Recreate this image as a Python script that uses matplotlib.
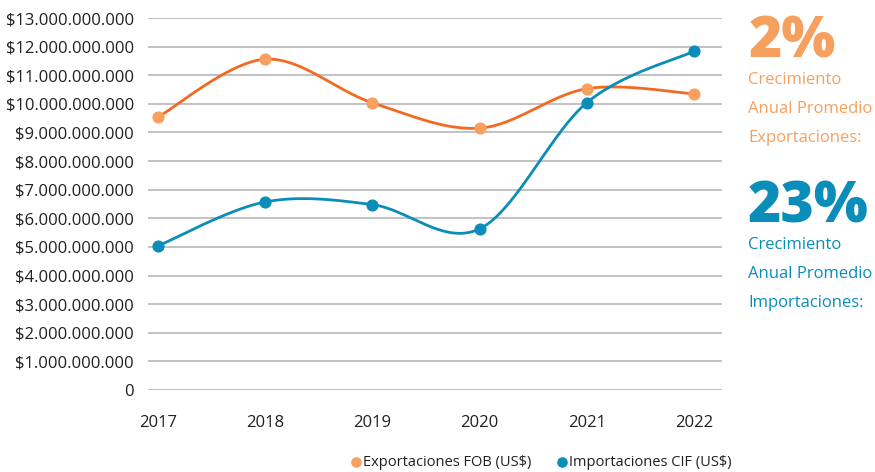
import numpy as np
import matplotlib.pyplot as plt
from matplotlib.ticker import FuncFormatter

years = [2017, 2018, 2019, 2020, 2021, 2022]
exportaciones = [9.53e9, 11.56e9, 10.04e9, 9.15e9, 10.53e9, 10.35e9]
importaciones = [5.03e9, 6.57e9, 6.48e9, 5.63e9, 10.04e9, 11.84e9]
crec_export = "2%"
crec_import = "23%"

plt.rcParams['font.family'] = ['Open Sans', 'DejaVu Sans']

orange_line = "#f26a22"
orange_dot = "#f7a05f"
orange_txt = "#f5a05e"
blue = "#0a8db8"


def smooth(x, y, n=40):
    # catmull-rom style smoothing like spreadsheet "smoothed line"
    x = np.asarray(x, float)
    y = np.asarray(y, float)
    px = np.concatenate([[x[0]], x, [x[-1]]])
    py = np.concatenate([[y[0]], y, [y[-1]]])
    xs, ys = [], []
    for i in range(1, len(px) - 2):
        p0, p1, p2, p3 = (np.array([px[j], py[j]]) for j in (i - 1, i, i + 1, i + 2))
        c1 = p1 + (p2 - p0) / 6
        c2 = p2 - (p3 - p1) / 6
        t = np.linspace(0, 1, n)[:, None]
        b = (1 - t) ** 3 * p1 + 3 * (1 - t) ** 2 * t * c1 + 3 * (1 - t) * t ** 2 * c2 + t ** 3 * p2
        xs.append(b[:, 0])
        ys.append(b[:, 1])
    return np.concatenate(xs), np.concatenate(ys)


fig = plt.figure(figsize=(8.75, 4.72), dpi=100)
ax = fig.add_axes([148 / 875, 1 - 390 / 472, (722 - 148) / 875, (390 - 18) / 472])

idx = np.arange(len(years))
sx, sy = smooth(idx, exportaciones)
ax.plot(sx, sy, color=orange_line, lw=2, zorder=3)
ax.scatter(idx, exportaciones, s=60, color=orange_dot, zorder=4, label="Exportaciones FOB (US$)")
sx, sy = smooth(idx, importaciones)
ax.plot(sx, sy, color=blue, lw=2, zorder=3)
ax.scatter(idx, importaciones, s=60, color=blue, zorder=4, label="Importaciones CIF (US$)")

ax.set_ylim(0, 13e9)
ax.set_yticks(np.arange(0, 13.5e9, 1e9))
ax.yaxis.set_major_formatter(FuncFormatter(
    lambda v, p: "0" if v == 0 else "$" + f"{int(round(v)):,}".replace(",", ".")))
ax.set_xlim(-0.09, 5.26)
ax.set_xticks(idx)
ax.set_xticklabels([str(y) for y in years])
ax.tick_params(length=0, labelsize=12, colors="#231f20", pad=10)
ax.tick_params(axis="x", pad=18)
ax.grid(axis="y", color="#b8b8b8", lw=1.2)
ax.set_axisbelow(True)
for s in ax.spines.values():
    s.set_visible(False)

# right side annotations
fig.text(749 / 875, 1 - 58 / 472, crec_export, color=orange_txt, fontsize=41, fontweight="heavy")
for i, t in enumerate(["Crecimiento", "Anual Promedio", "Exportaciones:"]):
    fig.text(748 / 875, 1 - (84 + 29 * i) / 472, t, color=orange_txt, fontsize=12)
fig.text(748 / 875, 1 - 223 / 472, crec_import, color=blue, fontsize=41, fontweight="heavy")
for i, t in enumerate(["Crecimiento", "Anual Promedio", "Importaciones:"]):
    fig.text(748 / 875, 1 - (249 + 29 * i) / 472, t, color=blue, fontsize=12)

fig.legend(loc="center", bbox_to_anchor=(540 / 875, 1 - 462 / 472), ncol=2, frameon=False,
           fontsize=10.5, handletextpad=0.0, handlelength=1.0, columnspacing=1.6,
           markerscale=0.85, labelcolor="#231f20")

fig.savefig("out.png", dpi=100)
